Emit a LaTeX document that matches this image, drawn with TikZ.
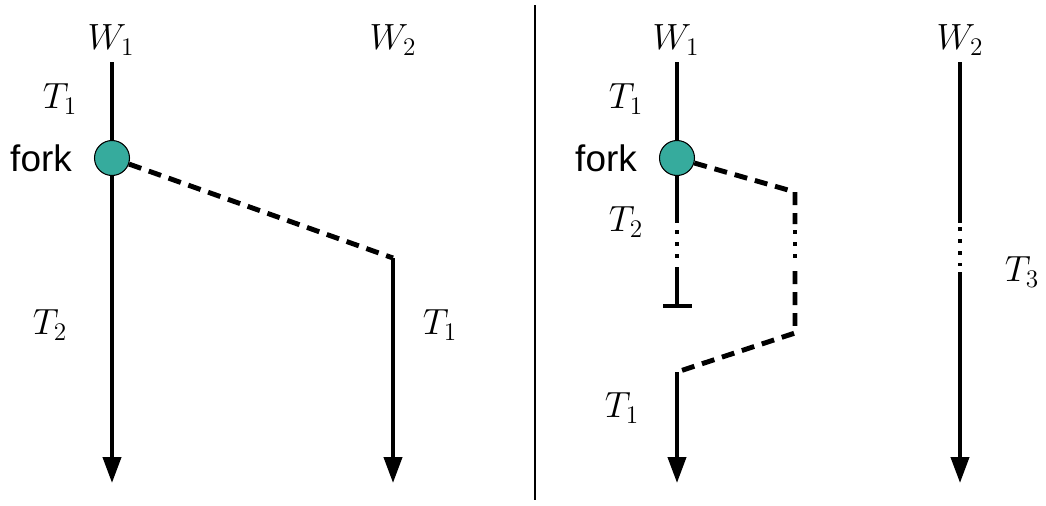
\documentclass[tikz,border=0pt]{standalone}
\usepackage{fontspec}
\setsansfont{Liberation Sans}
\usepackage{xcolor}
\usetikzlibrary{arrows.meta}

\definecolor{forkteal}{RGB}{54,171,157}

\begin{document}
\begin{tikzpicture}[
    x=0.02cm, y=-0.02cm,
    thread/.style={line width=2.3pt},
    flow/.style={thread, -{Triangle[length=0.52cm, width=0.36cm]}},
    jump/.style={line width=2.8pt, dash pattern=on 0.26cm off 0.16cm},
    pause/.style={line width=2.3pt, dash pattern=on 0.08cm off 0.16cm},
    forkpt/.style={circle, draw, line width=0.6pt, fill=forkteal,
                   minimum size=0.7cm, inner sep=0pt},
    lbl/.style={font=\fontsize{21}{25}\selectfont},
    word/.style={font=\sffamily\fontsize{21}{25}\selectfont},
]
    \useasboundingbox (0,0) rectangle (1046,505);

    % Left panel
    \node[lbl] (wa) at (111,40) {$W_1$};
    \node[lbl] (wb) at (393,40) {$W_2$};
    \node[lbl] (ta) at (60,99) {$T_1$};
    \node[word] (forka) at (41,158) {fork};
    \node[lbl] (tb) at (50,325) {$T_2$};
    \node[lbl] (tc) at (440,325) {$T_1$};

    \coordinate (watop) at (112,62);
    \coordinate (waend) at (112,483);
    \coordinate (wbjoin) at (393,258);
    \coordinate (wbend) at (393,483);
    \node[forkpt] (fa) at (112,158) {};

    \draw[thread] (watop) -- (fa);
    \draw[flow] (fa) -- (waend);
    \draw[jump] (fa) -- (wbjoin);
    \draw[flow] (wbjoin) -- (wbend);

    % Divider
    \coordinate (divtop) at (535,5);
    \coordinate (divbot) at (535,500);
    \draw[line width=0.85pt] (divtop) -- (divbot);

    % Right panel
    \node[lbl] (wc) at (676,40) {$W_1$};
    \node[lbl] (wd) at (960,40) {$W_2$};
    \node[lbl] (td) at (626,99) {$T_1$};
    \node[word] (forkb) at (606,158) {fork};
    \node[lbl] (te) at (626,222) {$T_2$};
    \node[lbl] (tf) at (622,408) {$T_1$};
    \node[lbl] (tg) at (1022,272) {$T_3$};

    \coordinate (wctop) at (677,62);
    \node[forkpt] (fb) at (677,158) {};
    \coordinate (wcstop) at (677,223);
    \coordinate (wcdota) at (677,230);
    \coordinate (wcdotb) at (677,259);
    \coordinate (wcres) at (677,267);
    \coordinate (wcbar) at (677,308);

    \draw[thread] (wctop) -- (fb);
    \draw[thread] (fb) -- (wcstop);
    \draw[pause] (wcdota) -- (wcdotb);
    \draw[thread, -{Bar[width=0.58cm]}] (wcres) -- (wcbar);

    % Moved task
    \coordinate (mva) at (795,192);
    \coordinate (mvb) at (795,224);
    \coordinate (mvc) at (795,230);
    \coordinate (mvd) at (795,259);
    \coordinate (mve) at (795,271);
    \coordinate (mvf) at (795,333);
    \coordinate (wcback) at (677,372);
    \coordinate (wcend) at (677,483);

    \draw[jump] (fb) -- (mva) -- (mvb);
    \draw[pause] (mvc) -- (mvd);
    \draw[jump] (mve) -- (mvf) -- (wcback);
    \draw[flow] (wcback) -- (wcend);

    % Second worker
    \coordinate (wdtop) at (960,62);
    \coordinate (wdstop) at (960,223);
    \coordinate (wddota) at (960,227);
    \coordinate (wddotb) at (960,266);
    \coordinate (wdres) at (960,272);
    \coordinate (wdend) at (960,483);

    \draw[thread] (wdtop) -- (wdstop);
    \draw[pause] (wddota) -- (wddotb);
    \draw[flow] (wdres) -- (wdend);
\end{tikzpicture}
\end{document}
